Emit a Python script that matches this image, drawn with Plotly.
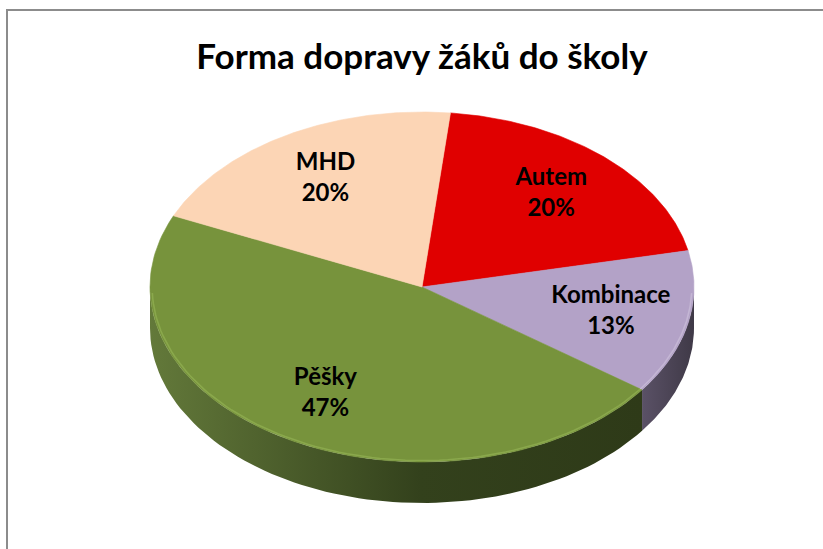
import numpy as np
import plotly.graph_objects as go

# ---- data ----
categories = ["Autem", "Kombinace", "Pěšky", "MHD"]
values = [3, 2, 7, 3]
top_colors = ["#E00000", "#B3A2C7", "#77933C", "#FCD5B5"]
rim_colors = ["#f03030", "#c4b6d4", "#8aa84c", "#fde3cc"]
side_scales = [
    [[0, "#9a0000"], [1, "#6a0000"]],
    [[0, "#5a5166"], [1, "#3f3947"]],
    [[0, "#63793a"], [0.55, "#33411c"], [1, "#2e3a18"]],
    [[0, "#c9a98c"], [1, "#a58466"]],
]
title_text = "Forma dopravy žáků do školy"

# ---- geometry (pixel space) ----
W, H = 823, 549
CX, CY, RA, RB, DEPTH = 422, 287, 272, 175, 41
START = 6.0
LABEL_R = 0.71

total = float(sum(values))
fracs = [v / total for v in values]
bounds = [START]
for f in fracs:
    bounds.append(bounds[-1] + f * 360.0)


def pt(t_deg, r=1.0, dy=0.0):
    t = np.radians(t_deg)
    return CX + r * RA * np.sin(t), CY - r * RB * np.cos(t) + dy


fig = go.Figure()

# side walls (front half only: 90..270 deg)
for i, (t1, t2) in enumerate(zip(bounds[:-1], bounds[1:])):
    lo, hi = max(t1, 90.0), min(t2, 270.0)
    if hi <= lo:
        continue
    ts = np.linspace(lo, hi, 80)
    xt, yt = pt(ts)
    xb, yb = pt(ts[::-1], dy=DEPTH)
    xs = np.concatenate([xt, xb, xt[:1]])
    ys = np.concatenate([yt, yb, yt[:1]])
    fig.add_trace(go.Scatter(
        x=xs, y=ys, mode="lines", fill="toself",
        line=dict(width=0),
        fillgradient=dict(type="horizontal", colorscale=side_scales[i]),
        hoverinfo="skip", showlegend=False,
    ))

# top faces
for i, (t1, t2) in enumerate(zip(bounds[:-1], bounds[1:])):
    ts = np.linspace(t1, t2, 120)
    xa, ya = pt(ts)
    xs = np.concatenate([[CX], xa, [CX]])
    ys = np.concatenate([[CY], ya, [CY]])
    fig.add_trace(go.Scatter(
        x=xs, y=ys, mode="lines", fill="toself",
        fillcolor=top_colors[i], line=dict(width=0.6, color=top_colors[i]),
        hoverinfo="text", text=f"{categories[i]}: {values[i]}",
        showlegend=False,
    ))

# subtle bevel highlight on the front rim of the top face
for i, (t1, t2) in enumerate(zip(bounds[:-1], bounds[1:])):
    lo, hi = max(t1, 92.0), min(t2, 268.0)
    if hi <= lo:
        continue
    ts = np.linspace(lo, hi, 80)
    xa, ya = pt(ts, r=0.992)
    fig.add_trace(go.Scatter(
        x=xa, y=ya, mode="lines", line=dict(width=1.6, color=rim_colors[i]),
        hoverinfo="skip", showlegend=False,
    ))

# labels
lx, ly, lt = [], [], []
for i, (t1, t2) in enumerate(zip(bounds[:-1], bounds[1:])):
    x, y = pt((t1 + t2) / 2.0, r=LABEL_R)
    lx.append(x)
    ly.append(y)
    lt.append(f"<b>{categories[i]}<br>{round(fracs[i] * 100)}%</b>")
fig.add_trace(go.Scatter(
    x=lx, y=ly, mode="text", text=lt, textposition="middle center",
    textfont=dict(family="Lato", size=24, color="#000000"),
    hoverinfo="skip", showlegend=False,
))

fig.update_layout(
    width=W, height=H, autosize=False,
    margin=dict(l=0, r=0, t=0, b=0),
    paper_bgcolor="white", plot_bgcolor="white",
    xaxis=dict(range=[0, W], visible=False, fixedrange=True),
    yaxis=dict(range=[H, 0], visible=False, fixedrange=True),
    title=dict(
        text=f"<b>{title_text}</b>", x=422 / W, xanchor="center",
        y=1 - 57 / H, yanchor="middle",
        font=dict(family="Lato", size=35, color="#000000"),
    ),
    shapes=[dict(type="rect", xref="x", yref="y", x0=7, y0=10, x1=W + 20, y1=H + 20,
                 line=dict(color="#8c8c8c", width=2), layer="above")],
)

fig.write_html(
    "out.html",
    config={"displayModeBar": False},
    post_script="document.body.style.margin='0';document.body.style.overflow='hidden';",
)
